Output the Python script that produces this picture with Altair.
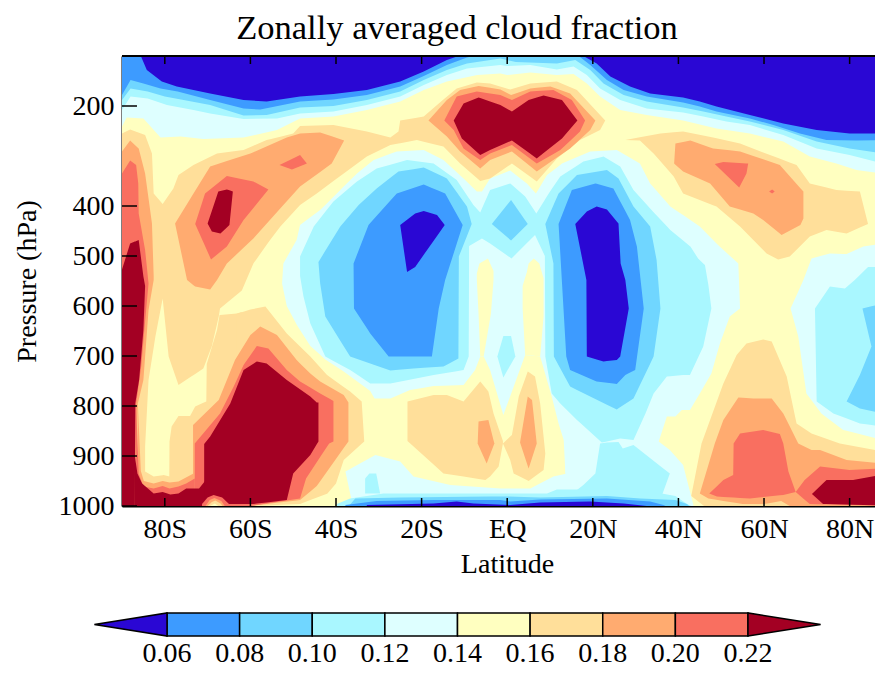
import altair as alt
import numpy as np
import pandas as pd

LEVELS = [0.06, 0.08, 0.10, 0.12, 0.14, 0.16, 0.18, 0.20, 0.22]
COLORS = ["#2a07d4", "#3d9bff", "#70d6ff", "#a9f7ff", "#deffff", "#ffffc0", "#ffdf9a", "#ffab70", "#f96f60", "#a30023"]
X_TICKS = [-80, -60, -40, -20, 0, 20, 40, 60, 80]
Y_TICKS = [200, 400, 500, 600, 700, 800, 900, 1000]
TITLE = "Zonally averaged cloud fraction"
TOP = [(-90, 100), (92, 100)]
BOT = [(-90, 1000), (92, 1000)]

# Contour outlines: (fill value, upper edge, lower edge) as (latitude, hPa)
T4 = [(-90,241),(-88.9,223),(-85,225),(-81,263),(-76.3,261),(-71,266),(-61.6,263),(-53.8,248),(-48.4,225),(-40.6,221),(-32.8,208),(-25,191),(-19.5,168),(-14.1,151),(-7,138),(-1.6,135),(0,138),(5.4,133),(11.6,138),(15.5,136),(18.6,155),(21.7,181),(26.4,208),(32.6,218),(41.1,229),(48.9,245),(56.7,255),(64.5,271),(70.7,301),(76.9,315),(81.6,328),(87.8,335),(92,338)]
T3 = [(-90,208),(-88,181),(-84,185),(-79.5,198),(-73.3,208),(-69.4,215),(-61.6,226),(-53.8,225),(-48.4,215),(-40.6,211),(-32.8,198),(-25,181),(-19.5,158),(-14.1,138),(-9.4,125),(-1.6,118),(0,120),(5.4,118),(11.6,127),(15.5,121),(18.6,138),(21.7,165),(26.4,188),(32.6,205),(41.1,213),(45.8,221),(51.2,231),(56.7,238),(64.5,258),(72.3,285),(80,298),(87.8,315),(92,320)]
T2 = [(-90,188),(-88,165),(-84,171),(-80,181),(-75.6,188),(-69.4,198),(-61.6,219),(-56.2,218),(-48.4,203),(-40.6,200),(-32.8,188),(-25,171),(-19.5,148),(-14.1,128),(-9.4,115),(-1.6,105),(2,112),(11.6,115),(15.9,108),(19.4,128),(22.5,155),(27.2,178),(32.6,191),(41.1,203),(45.8,211),(51.2,221),(56.7,231),(64.5,248),(72.3,271),(80,285),(87.8,295),(92,298)]
T1 = [(-90,178),(-88,148),(-85,155),(-81,165),(-77,171),(-69.4,188),(-61.6,205),(-57.7,207),(-48.4,191),(-40.6,187),(-32.8,178),(-25,161),(-19.5,140),(-14.1,118),(-9.4,103),(-7.9,100),(16.7,100),(19.4,118),(23.3,148),(27.2,168),(32.6,181),(41.1,193),(45,201),(48.9,211),(56.7,225),(62.2,238),(68.4,255),(74.6,268),(81.6,269),(87.8,268),(92,268)]
T0 = [(-85.6,100),(-84.2,128),(-80.7,151),(-77.2,161),(-69.4,175),(-61.6,188),(-56.2,191),(-48.4,181),(-40.6,176),(-32.8,168),(-25,151),(-19.5,131),(-14.1,108),(-11.4,100),(17.8,100),(20.9,115),(24.1,141),(28.7,161),(33.4,175),(41.1,183),(45,191),(48.9,201),(56.7,218),(64.5,235),(72.3,248),(80,255),(87.8,255),(92,255)]

M4_TOP = [(-52.6,555),(-52.3,515),(-49.2,468),(-48.4,438),(-43.7,408),(-39,368),(-35.1,335),(-31.2,308),(-25.8,291),(-19.5,288),(-14.9,308),(-10.2,345),(-7.1,371),(-5.9,371),(-4,345),(0.7,329),(4.6,355),(6.7,375),(9.3,338),(12.8,315),(19.4,291),(25.6,288),(31,315),(33.4,355),(38.1,401),(41.1,418),(45,441),(48.9,475),(54,515),(54.4,605)]
M4_BOT = [(-52.6,555),(-51.5,600),(-49,640),(-46,680),(-42.5,707),(-38.2,731),(-32,770),(-31,785),(-27.3,785),(-22.7,768),(-17.2,760),(-10.2,758),(-7.5,728),(-6.3,701),(-5.5,701),(-4,728),(-0.9,818),(4.2,698),(7.7,701),(10.4,781),(12,835),(13.2,868),(13.6,935),(35,940),(35.4,871),(37.3,821),(39.3,821),(40.8,808),(42.7,808),(45,775),(47.7,735),(49.7,675),(52,621),(54.4,605)]
B4_TOP = [(13.6,860),(35.4,871),(38,888),(41.1,918),(43.5,998)]
L4_TOP = [(-37.8,931),(-30.8,898),(-25,911),(-21.9,941),(-13.3,958),(-1.6,965),(5.4,965),(10.8,941),(14,935)]
L4_BOT = [(-37.8,931),(-36.7,975),(-36,1000),(14,1000)]
COL_L_TOP = [(-7.1,535),(-6.5,515),(-4.5,505),(-3.2,530)]
COL_L_BOT = [(-7.1,548),(-6.7,615),(-6.3,701),(-5.5,701),(-3.8,615),(-3.2,548)]
COL_R_TOP = [(3.6,560),(4.6,532),(5,515),(6.2,505),(7.5,515),(8.5,545)]
COL_R_BOT = [(3.6,605),(4.2,698),(7.7,701),(8.5,620)]
R4_TOP = [(66.2,605),(69.2,548),(71.1,505),(75.4,495),(79.3,496),(83.2,481),(87.8,475),(92,472)]
R4_BOT = [(66.2,605),(68,661),(69.9,775),(73.4,815),(78.5,848),(87.8,868),(92,870)]

M3_TOP = [(-48.4,501),(-45.2,441),(-40.6,391),(-35.1,351),(-30.5,325),(-23.4,308),(-17.2,315),(-11.8,348),(-7.9,398),(-6.3,413),(-4,368),(0.7,355),(4.2,381),(6.8,415),(9.7,375),(12.4,341),(17.8,311),(22.5,301),(26.4,321),(29.5,368),(33.4,405),(38.1,448),(42.8,481),(44.6,505),(46.2,518),(47,558),(47.7,605)]
M3_BOT = [(-48.4,540),(-47.6,581),(-46,635),(-42.5,701),(-36.7,728),(-32,755),(-27.3,755),(-17.2,738),(-10.2,728),(-9,701),(-8.9,480),(-5.9,465),(-4,475),(1,505),(6.5,458),(8.8,500),(8.9,701),(10.4,775),(12.4,795),(16.3,828),(22.1,873),(26.4,865),(29.5,868),(32.3,815),(34.2,775),(37.3,741),(41.1,738),(42.7,738),(45.8,681),(47.7,605)]
R3_TOP = [(16.3,968),(17.8,958),(20.6,935),(21.7,875),(23.3,873),(26,872),(27,885),(29.5,878),(38,935)]
R3_BOT = [(16.3,980),(36.1,980),(38,935)]
L3A_TOP = [(-33.2,945),(-32.2,935),(-30.6,935),(-29.7,975)]
L3A_BOT = [(-33.2,975),(-29.7,975)]
L3_BAND = [(-39.8,996),(-36.7,985),(-28.9,975),(-17.2,975),(-4,975),(9.3,975),(11.6,967),(16.7,967),(36.1,975),(39.3,980),(42,996),(43,1000)]
C3_TOP = [(-2.3,701),(-0.9,660),(0.9,660),(1.9,701)]
C3_BOT = [(-2.3,701),(-0.9,743),(1.9,701)]
RR3_TOP = [(71.9,605),(75.4,561),(78.9,565),(81.2,548),(84.3,522),(87.8,522),(92,520)]
RR3_BOT = [(71.9,605),(72.3,791),(76.2,815),(82.4,835),(87.8,841),(92,845)]

M2L_TOP = [(-44.1,512),(-39,441),(-34.7,398),(-30.5,365),(-25.4,331),(-19.5,323),(-14.1,345),(-9.4,401),(-8.3,436)]
M2L_BOT = [(-44.1,512),(-43.7,555),(-42.5,621),(-36.7,701),(-27.3,729),(-21.9,725),(-14.9,721),(-11.4,705),(-11.3,501),(-8.3,436)]
DIA_TOP = [(-3.6,436),(0.9,388),(4.8,436)]
DIA_BOT = [(-3.6,436),(0.9,469),(4.8,436)]
M2R_TOP = [(8.9,436),(12,375),(16.3,338),(23.3,328),(26,345),(29.5,401),(33.4,441),(34.9,508),(35.8,605)]
M2R_BOT = [(8.9,436),(10.8,515),(10.9,701),(14.7,761),(25.6,807),(29.5,785),(34.2,701),(35.8,605)]
RR2A_TOP = [(83,605),(87.8,595),(92,590)]
RR2A_BOT = [(83,605),(85.1,681),(92,700)]
RR2B_TOP = [(79.3,791),(82.4,738),(85.1,681),(92,660)]
RR2B_BOT = [(79.3,791),(82.4,805),(87.8,815),(92,818)]

M1L_TOP = [(-35.9,515),(-32.4,438),(-25.8,375),(-19.5,357),(-14.5,375),(-10.4,438)]
M1L_BOT = [(-35.9,515),(-35.8,605),(-32,655),(-27.7,701),(-17.6,701),(-16,605),(-14.5,548),(-10.4,438)]
M1R_TOP = [(12,436),(15.1,368),(20.6,355),(24.8,365),(28.7,428),(30.3,481),(31.9,605)]
M1R_BOT = [(12,436),(13.8,515),(13.8,701),(14.7,728),(20.9,751),(25.6,756),(27.6,738),(29.9,728),(31.9,605)]
M0L_TOP = [(-25,438),(-21.5,415),(-19.5,410),(-16.4,418),(-14.6,438)]
M0L_BOT = [(-25,438),(-23.4,532),(-21.5,522),(-14.6,438)]
M0R_TOP = [(15.9,436),(18.6,411),(20.9,401),(23.3,407),(26,435),(26.5,515),(27.6,548),(28.4,605)]
M0R_BOT = [(15.9,436),(18.5,548),(18.6,701),(22.5,711),(25.6,708),(26.4,701),(28.4,605)]
L2_BAND = [(-37,1000),(-35.5,985),(-25,983),(-4,981),(0,981),(7.7,983),(23.3,980),(31.1,985),(39.3,988),(42,996),(42.5,1000)]
L1_BAND = [(-37.8,998),(-30.5,990),(-17.2,988),(-1.6,988),(0.7,991),(7.7,987),(23.3,985),(33.4,991),(36.5,998),(37,1000)]
L0_BAND = [(-32.8,998),(-17.2,995),(-11.8,991),(-7.9,995),(0.7,998),(7.7,993),(19.4,991),(27.2,995),(32.6,1000)]

W6A_TOP = [(-90,255),(-88.1,247),(-84.6,258),(-83,295),(-82.6,375),(-80.5,396),(-78,365),(-76.8,338),(-73.3,318),(-67.8,295),(-61.6,288),(-56.2,268),(-50,255),(-48.4,240),(-40.6,238),(-32.8,251),(-27.3,263),(-25.4,251),(-25,229),(-19.5,221),(-16.4,198),(-11.8,165),(-7.1,153),(-4,155),(0.7,167),(5.4,155),(11.6,151),(16.3,168),(22.9,229)]
W6A_BOT = [(-90,1000),(-62.1,1000),(-62,569),(-59.3,515),(-55.4,468),(-53,441),(-48.4,398),(-44.5,375),(-38.2,335),(-32.8,301),(-27.3,278),(-21.1,268),(-14.9,281),(-11,315),(-6.3,350),(-4,345),(1.1,315),(6.9,351),(11.6,305),(17,268),(21.7,248),(22.9,229)]
YL_TOP = [(-84.6,881),(-83.8,748),(-82.2,661),(-80.5,585),(-79.1,701),(-76.8,758),(-71,725),(-69,680),(-67.4,621),(-67.1,605),(-62,569),(-60,607)]
YL_BOT = [(-84.6,931),(-82.6,941),(-80.3,938),(-78.95,941),(-78.9,871),(-78.4,841),(-76.8,820),(-74.1,820),(-72.9,801),(-70.3,791),(-70.2,716),(-67.8,648),(-67.2,618),(-63.2,615),(-60,607)]
W6B_TOP = [(-63.3,616),(-60,607),(-56.5,601),(-51.5,655),(-46,701),(-42.1,738),(-36.7,771),(-34,791),(-33.4,871)]
W6B_BOT = [(-63.3,1000),(-60,1000),(-48.4,996),(-42,975),(-40,955),(-38.2,908),(-33.4,871)]
WC6L_TOP = [(-23.3,791),(-17.2,778),(-14.1,778),(-10.2,791),(-6.3,751),(-4.4,771),(-3.2,815),(-1,870)]
WC6L_BOT = [(-23.3,870),(-14.9,935),(-5.1,948),(-4,941),(-2,921),(-1,875)]
WC6R_TOP = [(-1,875),(1.1,858),(2.7,781),(4.8,731),(6.5,741),(7.7,795),(8.9,895)]
WC6R_BOT = [(-1,875),(0.7,908),(1.5,935),(5,950),(8.5,928),(8.9,895)]
RB6_TOP = [(27.6,268),(35.8,255),(41.1,251),(48.1,263),(54.4,275),(59.8,293),(67.6,318),(70.7,355),(76.9,368),(82.4,371),(84.3,436)]
RB6_BOT = [(27.6,268),(31,269),(34.2,295),(38.9,341),(41.1,375),(48.9,401),(54.4,441),(60.6,495),(63.3,507),(66,501),(70.7,461),(74.6,448),(79.3,455),(84.3,436)]
RM6_TOP = [(43,980),(45.4,875),(50.5,755),(53.6,698),(55.9,675),(59.8,667),(61.8,671),(65.3,741),(67.6,835),(71.1,855),(77.7,875),(87.8,891),(92,895)]
RM6_BOT = [(43,980),(46,1000),(92,1000)]

S7_TOP = [(-90,291),(-88.1,269),(-86.1,285),(-84.6,335),(-83,435),(-82.6,540)]
S7_BOT = [(-90,1000),(-86.8,1000),(-86.3,795),(-85,748),(-83.8,608),(-82.6,548)]
B7_TOP = [(-86.3,795),(-85.6,930),(-84.9,950),(-82.6,955),(-80.5,950),(-78.9,953),(-76.8,951),(-73.3,935),(-72,931)]
B7_BOT = [(-86.3,1000),(-72,1000)]
M7_TOP = [(-73.4,838),(-67.4,788),(-63.6,708),(-60,658),(-57.7,641),(-53.8,658),(-49.2,708),(-46,735),(-43.7,751),(-38.2,778),(-37.1,793)]
M7_BOT = [(-73.4,1000),(-60,1000),(-48.4,988),(-44.5,960),(-37.1,871)]
U7_TOP = [(-77.6,435),(-73.3,375),(-69.4,321),(-60,295),(-51.5,263),(-48.4,255),(-43.7,253),(-38.1,269)]
U7_BOT = [(-77.6,435),(-74.8,548),(-72.9,561),(-69.4,567),(-67.8,548),(-65.5,515),(-59.3,465),(-52.3,398),(-48.4,361),(-41,315),(-38.1,269)]
C7_TOP = [(-18.4,229),(-14.1,188),(-11,168),(-6.7,160),(-1.6,167),(0.9,178),(5.4,165),(10.1,161),(14.7,175),(20.6,229)]
C7_BOT = [(-18.4,229),(-14.1,261),(-11,291),(-6.3,325),(-4,308),(1.1,291),(6.9,331),(14.7,285),(19.4,248),(20.6,229)]
RB7_TOP = [(39,315),(39.3,275),(42.8,269),(48.1,285),(54.4,291),(63.7,318),(69.2,371)]
RB7_BOT = [(39,315),(41.1,331),(47.4,355),(52,401),(57.5,415),(59.8,428),(64.1,458),(68.5,438),(69.2,425)]
WC7L_TOP = [(-6.9,875),(-6.7,831),(-4.4,828),(-3,875)]
WC7L_BOT = [(-6.9,875),(-4.8,915),(-3,875)]
WC7R_TOP = [(3,873),(4.8,781),(5.8,788),(6.9,875)]
WC7R_BOT = [(3,873),(5,925),(6.9,875)]
RM7_TOP = [(45,975),(48.5,875),(50.5,828),(54,783),(57.5,785),(61.8,785),(64.5,815),(68,875),(71.1,888),(73.1,888),(79.3,908),(87.8,915),(92,918)]
RM7_BOT = [(45,975),(47,985),(55,996),(60,996),(64,990),(66,1000),(92,1000)]

S8_TOP = [(-90,335),(-88.1,309),(-86.7,318),(-86.2,355),(-86.1,415),(-84.6,488),(-83.8,555)]
S8_BOT = [(-90,1000),(-87,1000),(-86.7,795),(-85.5,720),(-84.8,650),(-83.8,555)]
B8_TOP = [(-86.7,795),(-86.1,935),(-85,961),(-82.6,965),(-80.5,960),(-78.9,965),(-76.8,961),(-75,955),(-73,945)]
B8_BOT = [(-86.7,1000),(-73,1000)]
M8_TOP = [(-73,875),(-67.1,815),(-63.9,761),(-61.6,718),(-58.5,680),(-55.8,685),(-51.5,728),(-48.4,751),(-43.7,775),(-40.6,790)]
M8_BOT = [(-73,1000),(-60,1000),(-48.4,985),(-47,945),(-41.6,875),(-40.6,871)]
U8_TOP = [(-72.9,436),(-70.6,375),(-65.5,340),(-59.3,351),(-55.8,367)]
U8_BOT = [(-72.9,436),(-69.2,507),(-65.5,481),(-61.6,428),(-55.8,367)]
US8_TOP = [(-53.2,318),(-48.4,298),(-46.8,315)]
US8_BOT = [(-53.2,318),(-50.3,327),(-46.8,315)]
C8_TOP = [(-14.7,229),(-11.8,181),(-7.1,171),(-1.6,178),(1.1,188),(5.4,171),(10.8,168),(15.1,188),(18.2,229)]
C8_BOT = [(-14.7,229),(-12.5,248),(-10.2,285),(-6.3,308),(-4,295),(1.1,278),(6.9,315),(12.4,288),(17,251),(18.2,229)]
RB8_TOP = [(48.5,316),(50.5,312),(56.3,315)]
RB8_BOT = [(48.5,316),(54.2,363),(55.9,335),(56.3,315)]
SPK_TOP = [(61.2,371),(61.9,367),(62.5,371)]
SPK_BOT = [(61.2,371),(61.9,375),(62.5,371)]
RM8_TOP = [(47.2,975),(50.5,948),(52.8,938),(52.9,875),(54.4,855),(59.8,848),(63.7,856),(64.5,875),(65.7,931),(67.4,972),(69.5,948),(73.1,921),(80,928),(87.8,925),(92,925)]
RM8_BOT = [(47.2,975),(49,981),(56.7,985),(64.5,978),(67.4,972),(70.7,996),(92,1000)]

S9_TOP = [(-90,527),(-88.1,475),(-86.1,468),(-85,541),(-84.6,560)]
S9_BOT = [(-90,1000),(-87,1000),(-86.9,795),(-86,748),(-85,648),(-84.6,560)]
B9_TOP = [(-87,900),(-86.4,935),(-85.3,955),(-82.6,975),(-80.5,972),(-78.7,977),(-76.8,975),(-75,965),(-72,965),(-70.6,950)]
B9_BOT = [(-87,1000),(-70.6,1000)]
M9_TOP = [(-70.8,876),(-69.4,861),(-64.7,795),(-61.6,728),(-58.5,711),(-56.2,715),(-51.5,748),(-46,781),(-44.5,793),(-44.1,793)]
M9_BOT = [(-70.8,996),(-59.3,996),(-51.5,988),(-50,935),(-46,898),(-44.1,871)]
U9_TOP = [(-70,435),(-67.5,371),(-65.5,367),(-64.1,371)]
U9_BOT = [(-70,435),(-69,451),(-67,455),(-64.9,438),(-64.1,371)]
C9_TOP = [(-12.5,229),(-10.2,195),(-6.7,183),(-1.6,198),(1.1,211),(5,188),(8.5,179),(12.8,188),(16.4,229)]
C9_BOT = [(-12.5,229),(-10.6,265),(-6.3,298),(-4,288),(1.1,269),(6.9,305),(12.8,265),(16.4,229)]
RM9_TOP = [(71.2,976),(74.6,948),(80.8,948),(87.8,937),(92,935)]
RM9_BOT = [(71.2,976),(73.8,996),(92,1000)]
BUMP8 = [(-71.3,996),(-70,983),(-68.6,978),(-66.6,983),(-65,996)]
BUMP7 = [(-70.5,1000),(-69.5,988),(-68.4,984),(-66.8,990),(-66,1000)]
BUMP6 = [(-70,1000),(-69,992),(-68.2,989),(-67,995),(-66.5,1000)]
BUMP5 = [(-69.5,1000),(-68.3,995),(-67.5,1000)]

BLOBS = [
    (0.15, TOP, BOT), (0.13, TOP, T4), (0.11, TOP, T3), (0.09, TOP, T2), (0.07, TOP, T1), (0.05, TOP, T0),
    (0.13, M4_TOP, M4_BOT), (0.13, B4_TOP, [(13.6,1000),(43.5,1000)]), (0.13, L4_TOP, L4_BOT),
    (0.15, COL_L_TOP, COL_L_BOT), (0.15, COL_R_TOP, COL_R_BOT), (0.13, R4_TOP, R4_BOT),
    (0.11, M3_TOP, M3_BOT),
    (0.11, R3_TOP, R3_BOT), (0.11, L3A_TOP, L3A_BOT), (0.11, L3_BAND, [(-39.8,1000),(43,1000)]),
    (0.11, C3_TOP, C3_BOT), (0.11, RR3_TOP, RR3_BOT),
    (0.09, M2L_TOP, M2L_BOT), (0.09, DIA_TOP, DIA_BOT), (0.09, M2R_TOP, M2R_BOT),
    (0.09, RR2A_TOP, RR2A_BOT), (0.09, RR2B_TOP, RR2B_BOT),
    (0.07, M1L_TOP, M1L_BOT), (0.07, M1R_TOP, M1R_BOT), (0.05, M0L_TOP, M0L_BOT), (0.05, M0R_TOP, M0R_BOT),
    (0.09, L2_BAND, [(-37,1000),(42.5,1000)]), (0.07, L1_BAND, [(-37.8,1000),(37,1000)]), (0.05, L0_BAND, [(-32.8,1000),(32.6,1000)]),
    (0.17, W6A_TOP, W6A_BOT), (0.15, YL_TOP, YL_BOT), (0.17, W6B_TOP, W6B_BOT),
    (0.17, WC6L_TOP, WC6L_BOT), (0.17, WC6R_TOP, WC6R_BOT), (0.17, RB6_TOP, RB6_BOT), (0.17, RM6_TOP, RM6_BOT),
    (0.19, S7_TOP, S7_BOT), (0.19, B7_TOP, B7_BOT), (0.19, M7_TOP, M7_BOT), (0.19, U7_TOP, U7_BOT), (0.19, C7_TOP, C7_BOT),
    (0.19, RB7_TOP, RB7_BOT), (0.19, WC7L_TOP, WC7L_BOT), (0.19, WC7R_TOP, WC7R_BOT), (0.19, RM7_TOP, RM7_BOT),
    (0.21, S8_TOP, S8_BOT), (0.21, B8_TOP, B8_BOT), (0.21, M8_TOP, M8_BOT), (0.21, U8_TOP, U8_BOT), (0.21, US8_TOP, US8_BOT),
    (0.21, C8_TOP, C8_BOT), (0.21, RB8_TOP, RB8_BOT), (0.21, SPK_TOP, SPK_BOT), (0.21, RM8_TOP, RM8_BOT),
    (0.23, S9_TOP, S9_BOT), (0.23, B9_TOP, B9_BOT), (0.23, M9_TOP, M9_BOT), (0.23, U9_TOP, U9_BOT), (0.23, C9_TOP, C9_BOT), (0.23, RM9_TOP, RM9_BOT),
    (0.21, BUMP8, [(-71.3,1000),(-65,1000)]), (0.19, BUMP7, [(-70.5,1000),(-66,1000)]),
    (0.17, BUMP6, [(-70,1000),(-66.5,1000)]), (0.15, BUMP5, [(-69.5,1000),(-67.5,1000)]),
]

rows = []
for i, (v, top, bot) in enumerate(BLOBS):
    tl, tp = zip(*top)
    bl, bp = zip(*bot)
    for la in sorted(set(tl) | set(bl)):
        rows.append({"blob": i, "v": v, "lat": la,
                     "p1": float(np.interp(la, tl, tp)), "p2": float(np.interp(la, bl, bp))})
field = pd.DataFrame(rows)

FONT = "Liberation Serif"
FS = 28
LAT_MAX = 85.93
xs = alt.Scale(domain=[-90, LAT_MAX], nice=False, zero=False)
ys = alt.Scale(domain=[100, 1000], reverse=True, nice=False, zero=False)
cs = alt.Scale(type="threshold", domain=LEVELS, range=COLORS)
# the colour bar gets scales of its own, placed under the plot
bx = alt.Scale(domain=[0.04, 0.24], range=[-27.6, 698.6], nice=False, zero=False)
by = alt.Scale(domain=[0, 1], range=[580, 557], nice=False, zero=False)

xaxis = alt.Axis(values=X_TICKS, ticks=False, grid=False, title="Latitude",
                 labelExpr="datum.value==0?'EQ':(abs(datum.value)+(datum.value<0?'S':'N'))",
                 labelFont=FONT, labelFontSize=FS, labelColor="black", labelPadding=9, labelAngle=0,
                 titleFont=FONT, titleFontSize=FS, titleFontWeight="normal", titleColor="black",
                 titleX=385, titleY=44, domainColor="black", domainWidth=2, labelOverlap=False)
yaxis = alt.Axis(values=Y_TICKS, ticks=False, grid=False, title="Pressure (hPa)", format="d",
                 labelFont=FONT, labelFontSize=FS, labelColor="black", labelPadding=8,
                 titleFont=FONT, titleFontSize=FS, titleFontWeight="normal", titleColor="black",
                 titleX=-81, titleY=225, domainColor="black", domainWidth=2, labelOverlap=False)

contours = alt.Chart(field).mark_area(clip=True, interpolate="linear", orient="vertical").encode(
    x=alt.X("lat:Q", scale=xs, axis=xaxis),
    y=alt.Y("p1:Q", scale=ys, axis=yaxis),
    y2="p2:Q",
    color=alt.Color("v:Q", scale=cs, legend=None),
    detail="blob:N",
)

LEFT_TICK_END, TOP_TICK_END, BOTTOM_TICK_START = -86.5, 116, 984
tick_x = pd.DataFrame({"lat": X_TICKS})
tick_y = pd.DataFrame({"p": Y_TICKS})
def rule_layer(data, **enc):
    return alt.Chart(data).mark_rule(color="black", strokeWidth=1.5).encode(**enc)
NX = dict(scale=xs, axis=None)
NY = dict(scale=ys, axis=None)
top_ticks = rule_layer(tick_x, x=alt.X("lat:Q", **NX), y=alt.datum(100, **NY), y2=alt.datum(TOP_TICK_END))
bot_ticks = rule_layer(tick_x, x=alt.X("lat:Q", **NX), y=alt.datum(BOTTOM_TICK_START, **NY), y2=alt.datum(1000))
left_ticks = rule_layer(tick_y, y=alt.Y("p:Q", **NY), x=alt.datum(-90, **NX), x2=alt.datum(LEFT_TICK_END))
top_line = alt.Chart(pd.DataFrame({"p": [100]})).mark_rule(color="black", strokeWidth=2).encode(
    y=alt.Y("p:Q", **NY), x=alt.datum(-90, **NX), x2=alt.datum(LAT_MAX))
title_mark = alt.Chart(pd.DataFrame({"t": [TITLE]})).mark_text(
    font=FONT, fontSize=34.5, color="black").encode(x=alt.value(335), y=alt.value(-27), text="t:N")

bar = pd.DataFrame({"a": LEVELS[:-1], "b": LEVELS[1:], "lo": 0, "hi": 1,
                    "v": [round((x + y) / 2, 2) for x, y in zip(LEVELS[:-1], LEVELS[1:])]})
bar_rect = alt.Chart(bar).mark_rect(stroke="black", strokeWidth=1.5).encode(
    x=alt.X("a:Q", scale=bx, axis=None), x2="b:Q",
    y=alt.Y("lo:Q", scale=by, axis=None), y2="hi:Q",
    color=alt.Color("v:Q", scale=cs, legend=None))
tri = pd.DataFrame({"x": [0.04, 0.06, 0.22, 0.24], "lo": [0.5, 0, 0, 0.5], "hi": [0.5, 1, 1, 0.5],
                    "id": ["l", "l", "r", "r"], "v": [0.05, 0.05, 0.23, 0.23]})
bar_tri = alt.Chart(tri).mark_area(stroke="black", strokeWidth=1.5, orient="vertical").encode(
    x=alt.X("x:Q", scale=bx, axis=None),
    y=alt.Y("lo:Q", scale=by, axis=None), y2="hi:Q",
    detail="id:N",
    color=alt.Color("v:Q", scale=cs, legend=None))
bar_lab = alt.Chart(pd.DataFrame({"x": LEVELS, "y": [-0.79] * len(LEVELS),
                                  "t": [f"{l:.2f}" for l in LEVELS]})).mark_text(
    font=FONT, fontSize=FS, color="black").encode(
    x=alt.X("x:Q", scale=bx, axis=None),
    y=alt.Y("y:Q", scale=by, axis=None),
    text="t:N")

chart = alt.layer(contours, top_ticks, bot_ticks, left_ticks, top_line, title_mark,
                  bar_rect, bar_tri, bar_lab).resolve_scale(x="independent", y="independent").properties(
    width=753, height=450,
    padding={"left": 114, "top": 48, "right": 0, "bottom": 163},
    autosize=alt.AutoSizeParams(type="none"),
).configure_view(stroke=None)

chart.save("out.html", embed_options={"renderer": "svg", "actions": False})
